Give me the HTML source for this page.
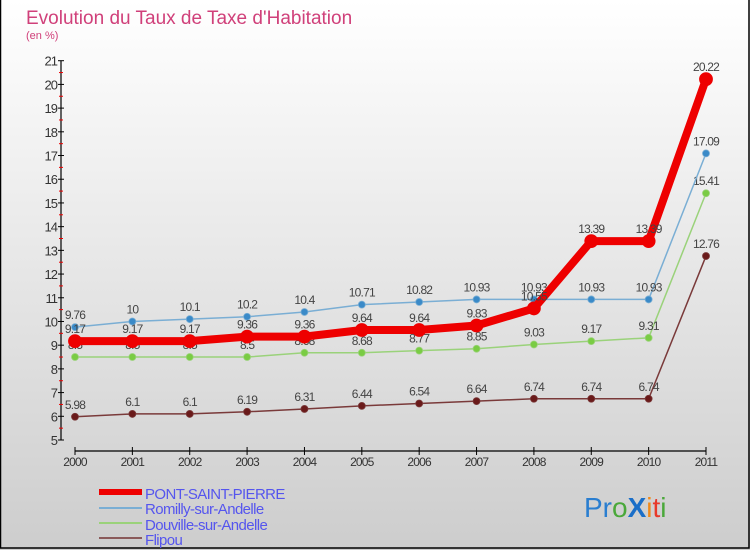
<!DOCTYPE html>
<html><head><meta charset="utf-8">
<style>
html,body{margin:0;padding:0}
body{width:750px;height:550px;overflow:hidden;font-family:"Liberation Sans",sans-serif}
</style></head>
<body>
<svg id="chart" width="750" height="550" xmlns="http://www.w3.org/2000/svg">
<defs>
<linearGradient id="bg" x1="0" y1="0" x2="0" y2="1">
<stop offset="0" stop-color="#ffffff"/><stop offset="1" stop-color="#cdcdcd"/>
</linearGradient>
</defs>
<rect x="0" y="0" width="750" height="550" fill="url(#bg)"/>
<rect x="0.5" y="-1" width="748.5" height="549" fill="none" stroke="#000" stroke-width="1.5"/>
<text x="26" y="24" font-size="19" fill="#d0407a">Evolution du Taux de Taxe d'Habitation</text>
<text x="26" y="39" font-size="11" fill="#d0407a">(en %)</text>
<g id="axes"></g>
<g id="series"></g>
<g>
<line x1="99" y1="492" x2="142" y2="492" stroke="#ee0000" stroke-width="6"/>
<line x1="99" y1="508" x2="142" y2="508" stroke="#7aaed4" stroke-width="2"/>
<line x1="99" y1="523" x2="142" y2="523" stroke="#9ad27a" stroke-width="2"/>
<line x1="99" y1="538" x2="142" y2="538" stroke="#8a5a5a" stroke-width="2"/>
<text x="145" y="499" font-size="15" fill="#5555ee" letter-spacing="-0.6">PONT-SAINT-PIERRE</text>
<text x="145" y="514" font-size="15" fill="#5555ee" letter-spacing="-0.6">Romilly-sur-Andelle</text>
<text x="145" y="530" font-size="15" fill="#5555ee" letter-spacing="-0.6">Douville-sur-Andelle</text>
<text x="145" y="545" font-size="15" fill="#5555ee" letter-spacing="-0.6">Flipou</text>
</g>
<g font-size="28" font-family="'Liberation Sans',sans-serif">
<text x="584" y="517"><tspan fill="#2a7ed0">Pr</tspan><tspan fill="#4aa83a">o</tspan><tspan fill="#1a6ec8" font-weight="bold">X</tspan><tspan fill="#f08a1a">i</tspan><tspan fill="#e83a2a">t</tspan><tspan fill="#4aa83a">i</tspan></text>
</g>
</svg>
<script>
const years = ["2000","2001","2002","2003","2004","2005","2006","2007","2008","2009","2010","2011"];
const pontValues = [9.17,9.17,9.17,9.36,9.36,9.64,9.64,9.83,10.55,13.39,13.39,20.22];
const romillyValues = [9.76,10,10.1,10.2,10.4,10.71,10.82,10.93,10.93,10.93,10.93,17.09];
const douvilleValues = [8.5,8.5,8.5,8.5,8.68,8.68,8.77,8.85,9.03,9.17,9.31,15.41];
const flipouValues = [5.98,6.1,6.1,6.19,6.31,6.44,6.54,6.64,6.74,6.74,6.74,12.76];
const yTicks = [5,6,7,8,9,10,11,12,13,14,15,16,17,18,19,20,21];

const NS="http://www.w3.org/2000/svg";
const X0=75, XSTEP=(706-75)/11, Y5=440, YUNIT=(440-60.7)/16;
function xs(i){return X0+i*XSTEP;}
function ys(v){return Y5-(v-5)*YUNIT;}
function mk(tag,attrs,parent){const e=document.createElementNS(NS,tag);for(const k in attrs)e.setAttribute(k,attrs[k]);parent.appendChild(e);return e;}
const axes=document.getElementById('axes');
const ser=document.getElementById('series');
const ax=mk('line',{x1:61,y1:ys(21),x2:61,y2:ys(5),stroke:'#000','stroke-width':1.2},axes);


yTicks.forEach(t=>{
  const y=ys(t);
  mk('line',{x1:58,y1:y,x2:64,y2:y,stroke:'#000','stroke-width':1},axes);
  const tx=mk('text',{x:57,y:y+5,'font-size':13,'text-anchor':'end',fill:'#333','letter-spacing':'-1'},axes);
  tx.textContent=t;
  
  
  if(t<21) mk('line',{x1:59,y1:ys(t+0.5),x2:63,y2:ys(t+0.5),stroke:'#e00','stroke-width':1},axes);
});
const xa=mk('line',{x1:X0,y1:451,x2:xs(11),y2:451,stroke:'#000','stroke-width':1.2},axes);


years.forEach((yr,i)=>{
  mk('line',{x1:xs(i),y1:447,x2:xs(i),y2:455,stroke:'#000','stroke-width':1},axes);
  const tx=mk('text',{x:xs(i),y:466,'font-size':12,'text-anchor':'middle',fill:'#333','letter-spacing':'-0.8'},axes);
  tx.textContent=yr;
  
  
});
function series(vals,name,color,lw,r,dotColor){
  const g=mk('g',{},ser);
  
  
  mk('polyline',{points:vals.map((v,i)=>xs(i)+','+ys(v)).join(' '),fill:'none',stroke:color,'stroke-width':lw,'stroke-linejoin':'round'},g);
  vals.forEach((v,i)=>{
    const c=mk('circle',{cx:xs(i),cy:ys(v),r:r,fill:dotColor,stroke:color,'stroke-width':0.8},g);
    
    
    const t=mk('text',{x:xs(i),y:ys(v)-8,'font-size':12,'text-anchor':'middle',fill:'#444','letter-spacing':'-0.8'},g);
    t.textContent=String(v);
    
    
  });
}
series(flipouValues,'flipou-series','#7a3a3a',1.5,3.5,'#6a1a1a');
series(douvilleValues,'douville-series','#9ad27a',1.5,3.5,'#7acc44');
series(romillyValues,'romilly-series','#7aaed4',1.5,3.5,'#3a8ac8');
series(pontValues,'pont-saint-pierre-series','#ee0000',8,6.5,'#ee0000');
</script>
</body></html>
